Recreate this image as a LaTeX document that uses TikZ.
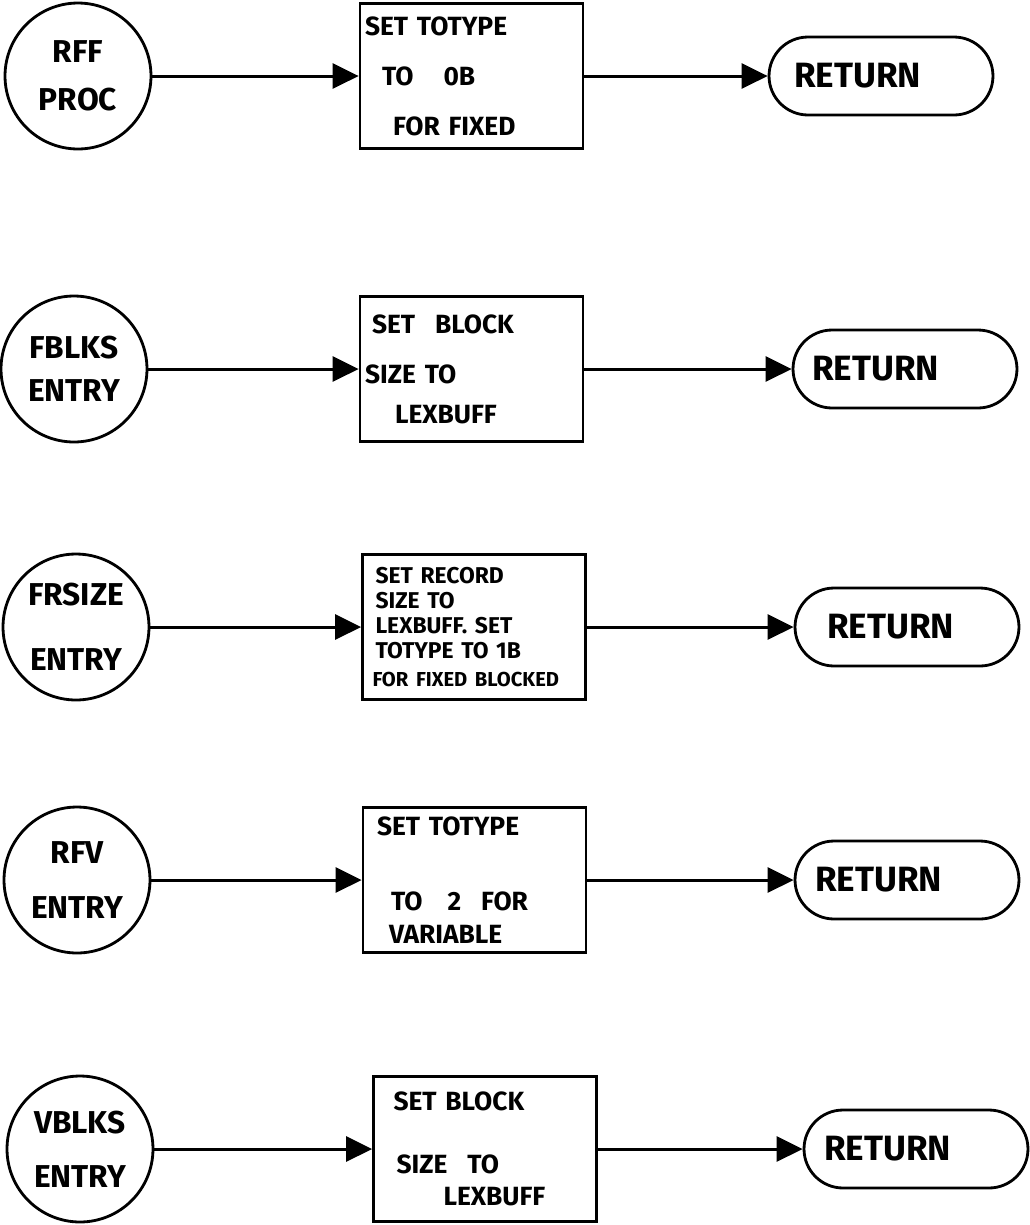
\documentclass[tikz,border=0pt]{standalone}
\usepackage{fontspec}
\setmainfont{Fira Sans}
\usetikzlibrary{arrows.meta}
\begin{document}
\begin{tikzpicture}[x=0.02cm,y=-0.02cm,
  entry/.style={draw, circle, line width=1.6pt, minimum size=2.92cm, inner sep=0pt,
    align=center, font=\bfseries\fontsize{18}{22}\selectfont},
  stepbox/.style={draw, rectangle, line width=1.6pt, minimum width=4.46cm, minimum height=2.9cm,
    inner xsep=0.1cm, inner ysep=0pt, text width=4.26cm, align=left,
    font=\bfseries\fontsize{15}{18}\selectfont},
  terminal/.style={draw, rectangle, rounded corners=0.78cm, line width=1.6pt,
    minimum width=4.48cm, minimum height=1.56cm, inner xsep=0.1cm, text width=4.28cm,
    align=left, font=\bfseries\fontsize{20}{24}\selectfont},
  flow/.style={line width=1.7pt, -{Triangle[length=0.52cm,width=0.5cm]}}
]
\useasboundingbox (0,0) rectangle (1030,1225);

% RFF procedure
\node[entry] (c1) at (78,76) {RFF\\[5pt]PROC};
\node[stepbox] (b1) at (471.5,76) {SET TOTYPE\\[10.5pt]\hspace*{0.34cm}TO\hspace{0.6cm}0B\\[10.5pt]\hspace*{0.56cm}FOR FIXED};
\node[terminal] (t1) at (881,76) {\hspace*{0.4cm}RETURN};
\draw[flow] (c1) -- (b1);
\draw[flow] (b1) -- (t1);

% FBLKS entry
\node[entry] (c2) at (74,369) {FBLKS\\[2.5pt]ENTRY};
\node[stepbox] (b2) at (471.5,369) {\hspace*{0.14cm}SET\hspace{0.4cm}BLOCK\\[10.5pt]SIZE TO\\[4.8pt]\hspace*{0.6cm}LEXBUFF};
\node[terminal] (t2) at (905,369) {\hspace*{0.28cm}RETURN};
\draw[flow] (c2) -- (b2);
\draw[flow] (b2) -- (t2);

% FRSIZE entry
\node[entry] (c3) at (76,627) {FRSIZE\\[15pt]ENTRY};
\node[stepbox, font=\bfseries\fontsize{13}{14.2}\selectfont] (b3) at (474,627)
  {\hspace*{0.16cm}SET RECORD\\\hspace*{0.16cm}SIZE TO\\\hspace*{0.16cm}LEXBUFF. SET\\\hspace*{0.16cm}TOTYPE TO 1B\\[1.5pt]\hspace*{0.1cm}{\fontsize{11.5}{14}\selectfont FOR FIXED BLOCKED}};
\node[terminal] (t3) at (907,627) {\hspace*{0.54cm}RETURN};
\draw[flow] (c3) -- (b3);
\draw[flow] (b3) -- (t3);

% RFV entry
\node[entry] (c4) at (77,880) {RFV\\[9pt]ENTRY};
\node[stepbox] (b4) at (474.5,880) {\hspace*{0.18cm}SET TOTYPE\\[24.7pt]\hspace*{0.46cm}TO\hspace{0.5cm}2\hspace{0.4cm}FOR\\[0.8pt]\hspace*{0.42cm}VARIABLE};
\node[terminal] (t4) at (907,880) {\hspace*{0.3cm}RETURN};
\draw[flow] (c4) -- (b4);
\draw[flow] (b4) -- (t4);

% VBLKS entry
\node[entry] (c5) at (80,1149) {VBLKS\\[9pt]ENTRY};
\node[stepbox] (b5) at (485,1149) {\hspace*{0.3cm}SET BLOCK\\[17.8pt]\hspace*{0.36cm}SIZE\hspace{0.4cm}TO\\[0.2pt]\hspace*{1.3cm}LEXBUFF};
\node[terminal] (t5) at (916,1149) {\hspace*{0.3cm}RETURN};
\draw[flow] (c5) -- (b5);
\draw[flow] (b5) -- (t5);
\end{tikzpicture}
\end{document}
